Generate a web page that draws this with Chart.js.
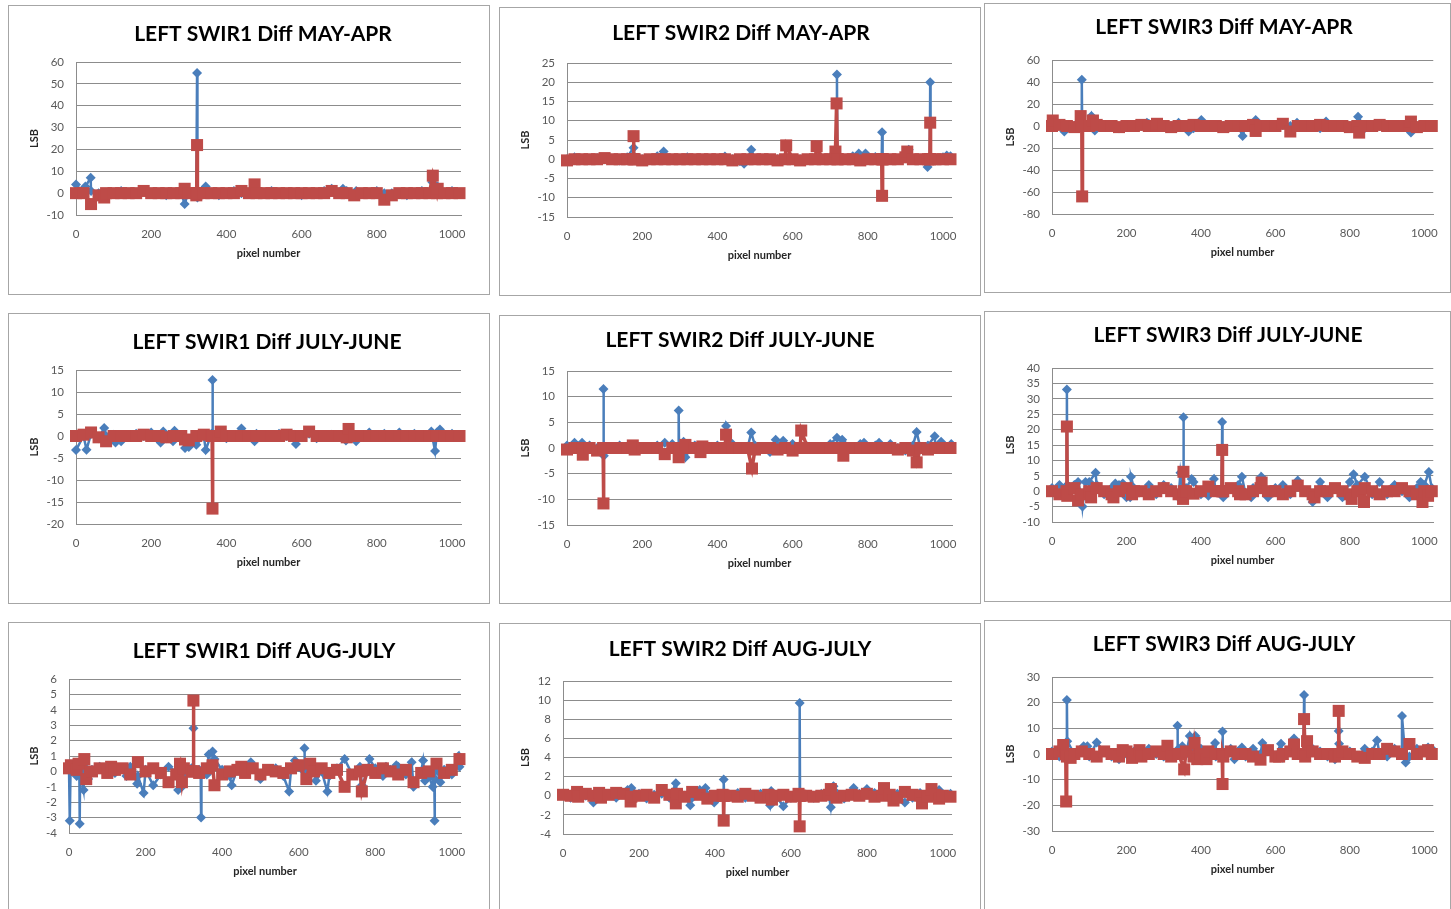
<!DOCTYPE html>
<html>
<head>
<meta charset="utf-8">
<script src="https://cdn.jsdelivr.net/npm/chart.js@4.4.0/dist/chart.umd.min.js"></script>
<style>
html, body { margin: 0; padding: 0; background: #fff; width: 1451px; height: 909px; overflow: hidden; }
.panel { position: absolute; border: 1px solid #a6a6a6; box-sizing: border-box; overflow: hidden; background: #fff; }
.panel canvas { position: absolute; left: 0; top: 0; }
</style>
</head>
<body>
<script>
// pixel positions along the detector (x grid shared by every panel)
const PIX = [0,20,40,60,80,100,120,140,160,180,200,220,240,260,280,300,320,340,360,380,400,420,440,460,480,500,520,540,560,580,600,620,640,660,680,700,720,740,760,780,800,820,840,860,880,900,920,940,960,980,1000,1020]

const titles = [
	'LEFT SWIR1 Diff MAY-APR', 'LEFT SWIR2 Diff MAY-APR', 'LEFT SWIR3 Diff MAY-APR',
	'LEFT SWIR1 Diff JULY-JUNE', 'LEFT SWIR2 Diff JULY-JUNE', 'LEFT SWIR3 Diff JULY-JUNE',
	'LEFT SWIR1 Diff AUG-JULY', 'LEFT SWIR2 Diff AUG-JULY', 'LEFT SWIR3 Diff AUG-JULY',
]
const yMin = [-10, -15, -80, -20, -15, -10, -4, -4, -30]
const yMax = [60, 25, 60, 15, 15, 40, 6, 12, 30]
const yStep = [10, 5, 20, 5, 5, 5, 1, 2, 10]
const xTicks = [0, 200, 400, 600, 800, 1000]

// baseline values on PIX grid, then the off-grid spikes as [pixel, LSB]
const may1Blue = [1,0,1,0,-1,0,1,0,0,1, 0,0,-1,0,0,1,0,0,0,-1, 0,1,0,0,0,0,1,0,0,0, -1,0,0,1,0,0,1,0,0,0, 1,0,0,0,-1,0,1,0,0,0, 1,0]
const may1BlueX = [[0,4],[25,3],[39,7],[289,-5],[321,0],[322,55],[323,-2],[345,3],[680,2],[710,2],[745,1],[948,5],[962,3]]
const may1Red = [0,0,0,-1,0,0,0,0,0,1, 0,0,0,0,0,0,-1,0,0,0, 0,0,1,0,0,0,0,0,0,0, 0,0,0,0,1,0,0,-1,0,0, 0,0,-1,0,0,0,0,0,0,0, 0,0]
const may1RedX = [[40,-5],[75,-2],[289,2],[321,0],[322,22],[323,0],[475,4],[820,-3],[949,8],[962,2]]

const may2Blue = [0,0.5,0,0,0.3,0,0,-0.3,0.5,0, 0,0,0.8,0,0,0,0.5,0,0,0, 0,0.7,0,-0.5,0,0,0,0,0,0.5, 0,0,0,0,0,0.5,0,0,0.8,0, 0,0.6,0,0,0,0.5,0,0,0,0, 0.5,0.8]
const may2BlueX = [[177,3],[257,2],[471,-1.2],[490,2.5],[717,0],[718,22],[719,0],[776,1.5],[794,1.5],[837,0],[838,7],[839,0],[909,2.5],[959,-2],[965,0],[966,20],[967,0],[1010,1]]
const may2Red = [-0.3,0,0,0,0,0.3,0,0,0,0, -0.3,0,0,0,0,0,0,0,0,0, 0,0,-0.3,0,0,0,0,0,-0.3,0, 0,-0.3,0,0,0,0,0,0,0,-0.3, 0,0,0,0,0,0.5,0,0,0,0, 0,0]
const may2RedX = [[176,0],[177,6],[178,0],[583,3.6],[664,3.4],[714,2],[717,14.5],[719,0],[837,0],[838,-9.5],[839,0],[905,2],[965,0],[966,9.5],[967,0]]

const may3Blue = [0,1,-2,0,1,-1,0,1,0,-2, 0,1,0,2,0,-1,0,1,0,-2, 0,0,1,0,-1,0,1,0,0,-1, 0,1,0,0,1,0,-2,0,1,0, 0,1,-2,0,0,1,0,-1,0,0, 1,0]
const may3BlueX = [[33,-5],[79,0],[80,42],[81,0],[106,9],[115,-4],[255,3],[340,3],[367,-5],[401,5.5],[512,-9],[547,5.5],[658,3],[736,4],[822,8.5],[964,-6]]
const may3Red = [0,1,0,-1,0,0,1,0,0,-1, 0,0,1,0,0,0,-1,0,0,1, 0,0,0,-1,0,0,0,1,0,0, 0,-1,0,0,0,0,1,0,0,0, -1,0,0,0,1,0,0,0,0,-1, 0,0]
const may3RedX = [[2,5],[77,9],[81,-64],[82,0],[110,5],[282,2],[547,-4.5],[620,2],[640,-5],[825,-6],[964,4]]

const jul1Blue = [0.5,0,0.5,-0.5,0,0.3,0.8,0,0.5,0, 0.8,0,-0.5,0.3,0,0.5,0,0,0.5,0, -0.5,0,0.3,0,0.5,0,0,0.5,0,0.3, 0,0.5,-0.5,0,0.3,0,0.5,0,0,0.8, 0,0.5,0,0.8,0,0.5,0,0,0.8,0, 0.5,0]
const jul1BlueX = [[0,-3.2],[28,-3.1],[75,1.8],[105,-1.5],[120,-1.2],[225,-1.5],[232,1],[258,-1.2],[262,1.2],[290,-2.7],[300,-2.5],[320,-2],[345,-3.2],[362,0],[363,12.7],[364,0],[440,1.7],[475,-1.2],[585,-1.8],[718,-1],[745,-1.2],[945,1],[955,-3.4],[968,1.5]]
const jul1Red = [0,0.3,0,-0.3,0,0,0,0,0,0.3, 0,0,-0.3,0,0,0,0,0.3,0,0, 0,0,0,0,0,0,0,0,0.3,0, 0,0.3,0,0,0,0,-0.3,0,0,0, 0,0,0,0,0,0,0,0,0,0, 0,0]
const jul1RedX = [[40,0.8],[80,-1.2],[290,-0.8],[300,-1],[362,0],[363,-16.5],[364,0],[385,1],[620,1],[725,1.6]]

const jul2Blue = [0.5,0,0,0.5,0,-0.5,0,0.5,0,0.3, 0,0,0.5,0,0.8,0,-0.5,0.5,0,0, 0.5,0,0.8,0,0,0.5,0,-0.8,0.5,0, 0.5,0,0.3,0,0,0.8,0,0.5,0,0.8, 0,0.5,0,0.8,0,-0.5,0.5,0,0.5,0, 0,0.5]
const jul2BlueX = [[20,1],[40,1],[96,0],[97,11.5],[98,-1.5],[260,1],[296,0],[297,7.3],[298,0],[310,1.2],[315,-1.8],[423,4.3],[490,3],[555,1.6],[575,1.4],[600,0.8],[718,2],[732,1.6],[790,1],[830,1],[930,3.1],[978,2.3],[995,1.2],[1022,0.8]]
const jul2Red = [-0.3,0,0,0,-0.5,0,0,0,0,-0.3, 0,0,0,-0.3,0,0,0,0,0.3,0, 0,0,0,0,0,-0.3,0,0,-0.3,0, -0.5,0,0,0,0,0,0,0,0,0, 0,0,0,0,-0.3,0,-0.5,0,-0.3,0, 0,0]
const jul2RedX = [[42,-1.3],[96,0],[97,-10.8],[98,0],[175,0.5],[260,-1.2],[297,-1.8],[315,0.6],[355,-0.8],[423,2.6],[492,-4],[600,-0.5],[623,3.4],[735,-1.5],[930,-2.8]]

const jul3Blue = [1,2,-1,2,-2,3,2,-1,1,2, -2,1,0,2,-1,2,1,-2,1,3, -1,2,0,-2,1,2,-1,1,3,-2, 1,2,-1,2,0,-1,3,-2,1,2, -1,2,1,-1,3,-1,2,0,-2,1, 2,1]
const jul3BlueX = [[39,0],[40,33],[41,2],[60,2],[70,3],[82,-5],[90,3],[117,6],[170,2.5],[190,2.5],[210,-2],[212,4.7],[345,6],[352,0],[353,24],[354,0],[375,4],[420,-1.5],[435,4],[456,0],[457,22.5],[458,0],[510,4.7],[535,-2],[562,4.7],[660,3.5],[700,-3.5],[780,-2],[800,3],[810,5.5],[840,4.7],[990,3],[1012,6.2]]
const jul3Red = [0,-1,0,1,-1,0,1,0,-1,0, 1,0,0,-1,0,1,0,-1,0,1, 0,-1,0,0,1,0,-1,0,1,0, 0,-1,0,1,0,-1,0,0,1,0, -1,0,1,0,-1,0,0,1,0,-1, 0,0]
const jul3RedX = [[39,0],[40,21],[41,-1.5],[70,-3],[105,-2],[165,-2],[215,-1],[352,-2.5],[353,6.3],[354,0],[380,-0.8],[420,1.5],[456,0],[457,13.4],[458,0],[505,-1],[563,2.8],[660,1.8],[705,-2],[805,-2.5],[838,-3.5],[995,-3.5],[1010,-1.5]]

const aug1Blue = [0.2,-0.3,0.3,0.1,-0.2,0.3,-0.1,0.2,0.3,-0.3, 0.1,0.2,-0.2,0.3,0,-0.3,0.2,0.1,-0.2,0.3, 0.1,-0.3,0.2,0,0.3,-0.2,0.1,0.2,-0.3,0.1, 0.3,-0.2,0.2,0,-0.3,0.2,0.1,-0.2,0.3,0, 0.2,-0.3,0.1,0.3,-0.2,0.2,0,-0.3,0.2,0.1, -0.2,0.3]
const aug1BlueX = [[2,-3.2],[4,0],[27,0],[28,-3.4],[29,0],[38,-1.2],[50,-0.5],[80,0.3],[150,-0.3],[178,-0.8],[195,-1.4],[220,-0.9],[285,-1.2],[295,-1],[324,0],[325,2.8],[326,0],[344,0],[345,-3],[346,0],[365,1.1],[375,1.3],[380,0.8],[425,-0.9],[475,0.6],[500,-0.5],[575,-1.3],[590,0.7],[614,0],[615,1.5],[616,0],[645,-0.6],[675,-1.3],[720,0.8],[765,-0.9],[785,0.8],[828,0.3],[855,0.4],[895,0.6],[900,-1],[925,0.7],[930,-0.6],[950,-1],[954,0],[955,-3.2],[956,-0.5],[970,-0.7],[1018,1]]
const aug1Red = [0.2,0.1,-0.2,0,0.2,-0.1,0.1,0.2,-0.2,0.1, 0,0.2,-0.1,0.1,-0.2,0.2,0,-0.1,0.2,0.1, -0.2,0,0.1,-0.1,0.2,-0.2,0.1,0,-0.1,0.2, 0.1,-0.2,0,0.2,-0.1,0.1,0.2,-0.2,0,0.1, -0.1,0.2,0,-0.2,0.1,0.2,-0.1,0,0.2,-0.1, 0.1,0]
const aug1RedX = [[5,0.4],[25,0.5],[40,0.8],[45,-0.5],[110,0.3],[180,0.6],[260,-0.7],[290,0.5],[295,-0.7],[324,0],[325,4.6],[326,0],[375,0.4],[380,-0.9],[450,0.3],[600,0.4],[620,-0.5],[630,0.5],[720,-1],[765,-1.3],[900,-0.7],[960,0.5],[1020,0.8]]

const aug2Blue = [0.2,-0.2,0.3,0,-0.3,0.2,0.1,-0.2,0.3,0, 0.2,-0.3,0.1,0.2,-0.2,0.3,0,-0.2,0.2,0.1, -0.3,0.2,0,0.3,-0.2,0.1,0.2,-0.3,0,0.2, -0.2,0.3,0.1,-0.2,0.2,0,0.3,-0.3,0.1,0.2, -0.2,0.3,0,-0.3,0.2,0.1,-0.2,0.3,0,0.2, -0.1,0.2]
const aug2BlueX = [[80,-0.7],[170,0.6],[180,0.8],[297,1.3],[335,-1],[360,0.6],[375,0.8],[398,-0.7],[422,0],[423,1.7],[424,0],[545,-1],[548,0.5],[580,-1.1],[622,0],[623,9.7],[624,0],[705,-1.2],[712,1],[765,0.8],[800,0.7],[900,-0.7],[990,0.6]]
const aug2Red = [0.1,0,-0.1,0.2,0,-0.2,0.1,0,0.2,-0.1, 0,0.1,-0.2,0,0.1,0.2,-0.1,0,0.1,-0.2, 0,0.1,0,-0.1,0.2,0,-0.2,0.1,0,0.1, -0.1,0.2,0,-0.1,0,0.1,-0.2,0,0.1,0, 0.2,-0.1,0,0.1,-0.2,0,0.1,0,-0.1,0.1, 0,-0.1]
const aug2RedX = [[37,0.4],[95,0.3],[140,0.3],[178,-0.6],[260,0.6],[297,-0.8],[340,0.4],[380,-0.3],[422,0],[423,-2.6],[424,0],[550,-0.4],[622,0],[623,-3.2],[624,0],[705,0.7],[845,0.8],[870,-0.5],[900,0.4],[945,-0.8],[970,0.7],[990,-0.3]]

const aug3Blue = [1,-1,2,0,2,-1,3,1,-1,2, 0,1,-1,2,0,-1,1,2,0,-1, 2,1,-1,0,2,1,-1,2,0,1, -1,2,1,0,-1,2,1,-1,2,0, 1,-1,2,1,0,-1,2,1,-1,2, 1,2]
const aug3BlueX = [[39,0],[40,21],[41,5],[85,3],[95,3],[100,-1],[120,4.5],[180,-2],[225,-1.5],[336,0],[337,11],[338,0],[350,3],[370,7],[385,7],[438,4.3],[457,0],[458,8.8],[459,0],[490,-2],[510,2.5],[565,4.3],[615,4],[620,-1.5],[650,6],[676,0],[677,23],[678,0],[760,-2],[769,0],[770,9],[771,4],[873,5.3],[939,0],[940,14.8],[950,-3.3],[1010,2.5]]
const aug3Red = [0,1,-1,0,1,0,-1,1,0,-1, 1,0,-1,0,1,0,-1,0,1,-1, 0,1,0,-1,1,0,0,-1,1,0, -1,0,1,0,-1,1,0,0,-1,1, 0,-1,1,0,0,-1,1,0,-1,0, 1,0]
const aug3RedX = [[30,3.5],[37,0],[38,-18.5],[39,0],[50,-1.5],[190,1.5],[215,-1.5],[235,1.5],[310,3.2],[355,-6],[383,4.3],[390,-2],[415,-2],[457,0],[458,-11.7],[459,0],[560,-2.2],[580,1.5],[610,-1],[650,3.7],[676,0],[677,13.6],[685,5],[769,0],[770,16.8],[771,0],[840,-1.5],[900,2],[960,3.9],[1010,1.5]]

const series = [
	[may1Blue, may1BlueX, may1Red, may1RedX],
	[may2Blue, may2BlueX, may2Red, may2RedX],
	[may3Blue, may3BlueX, may3Red, may3RedX],
	[jul1Blue, jul1BlueX, jul1Red, jul1RedX],
	[jul2Blue, jul2BlueX, jul2Red, jul2RedX],
	[jul3Blue, jul3BlueX, jul3Red, jul3RedX],
	[aug1Blue, aug1BlueX, aug1Red, aug1RedX],
	[aug2Blue, aug2BlueX, aug2Red, aug2RedX],
	[aug3Blue, aug3BlueX, aug3Red, aug3RedX],
]

// page layout: panel box and plot area (left, top, right, bottom), title centre
const frames = [
	{ box: [8, 5, 482, 290], area: [76, 62, 461, 215], title: [263, 34] },
	{ box: [499, 7, 482, 289], area: [567, 63, 952, 217], title: [741, 33] },
	{ box: [984, 3, 467, 290], area: [1052, 60, 1436, 214], title: [1224, 27] },
	{ box: [8, 313, 482, 291], area: [76, 370, 461, 524], title: [267, 342] },
	{ box: [499, 315, 482, 289], area: [567, 371, 952, 525], title: [740, 340] },
	{ box: [984, 311, 467, 291], area: [1052, 368, 1436, 522], title: [1228, 335] },
	{ box: [8, 622, 482, 300], area: [69, 679, 461, 833], title: [264, 651] },
	{ box: [499, 623, 482, 300], area: [563, 681, 952, 834], title: [740, 649] },
	{ box: [984, 620, 467, 300], area: [1052, 677, 1436, 831], title: [1224, 644] },
]

const BLUE = '#4a7ebb'
const RED = '#be4b48'
const GRID = '#8c8c8c'
const TICK = '#595959'

Chart.defaults.font.family = 'Lato'

const panelTitle = {
	id: 'panelTitle',
	afterDraw(chart, args, opts) {
		const ctx = chart.ctx
		ctx.save()
		ctx.font = 'bold 21px Lato'
		ctx.fillStyle = '#000'
		ctx.textAlign = 'center'
		ctx.textBaseline = 'middle'
		ctx.fillText(opts.text, opts.x, opts.y)
		ctx.restore()
	},
}

const buildPoints = (base, extra) => {
	const taken = new Set(extra.map(p => p[0]))
	const pts = PIX.map((x, i) => ({ x, y: base[i] })).filter(p => !taken.has(p.x))
	extra.forEach(p => pts.push({ x: p[0], y: p[1] }))
	return pts.sort((a, b) => a.x - b.x)
}

frames.forEach((f, i) => {
	const [bl, bt, bw, bh] = f.box
	const div = document.createElement('div')
	div.className = 'panel'
	div.style.left = bl + 'px'
	div.style.top = bt + 'px'
	div.style.width = bw + 'px'
	div.style.height = bh + 'px'
	const canvas = document.createElement('canvas')
	const cw = bw - 2
	const ch = bh - 2
	canvas.width = cw
	canvas.height = ch
	canvas.style.width = cw + 'px'
	canvas.style.height = ch + 'px'
	div.appendChild(canvas)
	document.body.appendChild(div)

	const cl = bl + 1
	const ct = bt + 1
	const [al, at, ar, ab] = f.area
	const yW = al - cl
	const xH = ct + ch - ab
	const [bBase, bX, rBase, rX] = series[i]

	new Chart(canvas, {
		type: 'line',
		data: {
			datasets: [
				{
					data: buildPoints(bBase, bX),
					borderColor: BLUE,
					backgroundColor: BLUE,
					borderWidth: 2.5,
					pointStyle: 'rectRot',
					pointRadius: 5,
					pointBorderWidth: 0,
					order: 2,
					clip: false,
				},
				{
					data: buildPoints(rBase, rX),
					borderColor: RED,
					backgroundColor: RED,
					borderWidth: 3.5,
					pointStyle: 'rect',
					pointRadius: 8.5,
					pointBorderWidth: 0,
					order: 1,
					clip: false,
				},
			],
		},
		options: {
			responsive: false,
			animation: false,
			devicePixelRatio: 1,
			layout: { padding: { left: 0, top: at - ct, right: cl + cw - ar, bottom: 0 } },
			plugins: {
				legend: { display: false },
				tooltip: { enabled: false },
				panelTitle: { text: titles[i], x: f.title[0] - cl, y: f.title[1] - ct },
			},
			scales: {
				x: {
					type: 'linear',
					min: 0,
					max: 1024,
					afterBuildTicks: s => { s.ticks = xTicks.map(v => ({ value: v })) },
					ticks: { color: TICK, font: { size: 11.5 }, padding: 12, maxRotation: 0, autoSkip: false, callback: v => String(v) },
					grid: { display: false, drawTicks: false },
					border: { display: true, color: GRID, width: 1 },
					title: {
						display: true,
						text: 'pixel number',
						color: '#262626',
						font: { size: 11, weight: 'bold' },
						padding: { top: 0, bottom: xH - 38 - 6.6 },
					},
					afterFit: s => { s.height = xH },
				},
				y: {
					min: yMin[i],
					max: yMax[i],
					ticks: { stepSize: yStep[i], color: TICK, font: { size: 11.5 }, padding: 12, autoSkip: false, callback: v => String(v) },
					grid: { color: GRID, drawTicks: false },
					border: { display: true, color: GRID, width: 1 },
					title: {
						display: true,
						text: 'LSB',
						color: '#262626',
						font: { size: 11, weight: 'bold' },
						padding: { top: 25 - 6.6, bottom: 0 },
					},
					afterFit: s => { s.width = yW },
				},
			},
		},
		plugins: [panelTitle],
	})
})
</script>
</body>
</html>
